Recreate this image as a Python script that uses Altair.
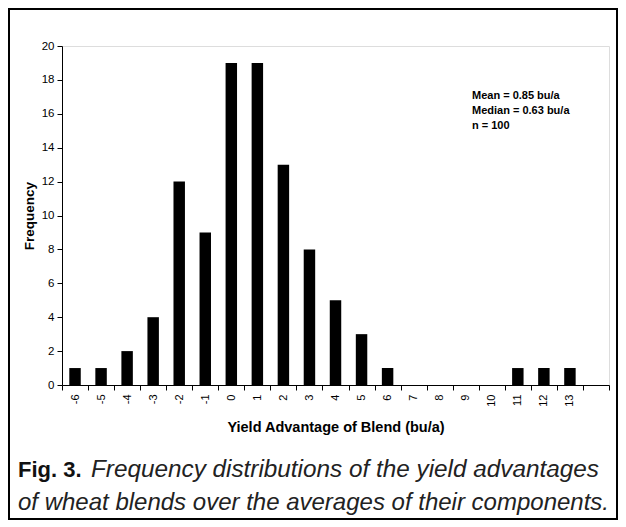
import altair as alt
import pandas as pd

# Data
advantage = [-6, -5, -4, -3, -2, -1, 0, 1, 2, 3, 4, 5, 6, 7, 8, 9, 10, 11, 12, 13]
frequency = [1, 1, 2, 4, 12, 9, 19, 19, 13, 8, 5, 3, 1, 0, 0, 0, 0, 1, 1, 1]
y_ticks = [0, 2, 4, 6, 8, 10, 12, 14, 16, 18, 20]
stats_lines = ["Mean = 0.85 bu/a", "Median = 0.63 bu/a", "n = 100"]
caption_bold = "Fig. 3."
caption_line1 = "Frequency distributions of the yield advantages"
caption_line2 = "of wheat blends over the averages of their components."
x_title = "Yield Advantage of Blend (bu/a)"
y_title = "Frequency"

df = pd.DataFrame({"adv": advantage, "freq": frequency})
x_domain = advantage + [14]

W, H = 547, 339
FONT = "Liberation Sans"

bars = alt.Chart(df).mark_bar(color="black", width={"band": 0.44}).encode(
    x=alt.X(
        "adv:O",
        scale=alt.Scale(domain=x_domain, paddingInner=0, paddingOuter=0),
        axis=alt.Axis(
            title=x_title,
            tickBand="extent",
            labelAngle=270,
            labelExpr="datum.value == 14 ? '' : datum.label",
            labelFont=FONT,
            labelFontSize=11,
            labelColor="black",
            labelPadding=4,
            tickSize=5,
            tickColor="black",
            domainColor="black",
            titleFont=FONT,
            titleFontSize=14.5,
            titleFontWeight="bold",
            titleColor="black",
            titlePadding=14,
        ),
    ),
    y=alt.Y(
        "freq:Q",
        scale=alt.Scale(domain=[0, 20], nice=False),
        axis=alt.Axis(
            title=y_title,
            values=y_ticks,
            grid=False,
            labelFont=FONT,
            labelFontSize=11.5,
            labelColor="black",
            labelPadding=3,
            tickSize=5,
            tickColor="black",
            domainColor="black",
            titleFont=FONT,
            titleFontSize=13.5,
            titleFontWeight="bold",
            titleColor="black",
            titlePadding=5,
        ),
    ),
)

stats = alt.Chart().mark_text(
    align="left", baseline="middle", font=FONT, fontSize=11, fontWeight="bold",
    lineHeight=15, color="black",
).encode(x=alt.value(410), y=alt.value(50), text=alt.value(stats_lines))

cap_bold = alt.Chart().mark_text(
    align="left", baseline="middle", font=FONT, fontSize=22,
    fontWeight="bold", color="#111",
).encode(x=alt.value(-44), y=alt.value(424), text=alt.value(caption_bold))

cap1 = alt.Chart().mark_text(
    align="left", baseline="middle", font=FONT, fontSize=24.3,
    fontStyle="italic", color="#222",
).encode(x=alt.value(29), y=alt.value(424), text=alt.value(caption_line1))

cap2 = alt.Chart().mark_text(
    align="left", baseline="middle", font=FONT, fontSize=24,
    fontStyle="italic", color="#222",
).encode(x=alt.value(-44), y=alt.value(457), text=alt.value(caption_line2))

border = alt.Chart().mark_rect(
    fill=None, fillOpacity=0, stroke="black", strokeWidth=2, clip=False,
).encode(
    x=alt.value(-53), x2=alt.value(555), y=alt.value(-37), y2=alt.value(473)
)

chart = alt.layer(bars, stats, cap_bold, cap1, cap2, border).properties(
    width=W, height=H,
    padding={"left": 54, "top": 38, "right": 9, "bottom": 135},
    autosize=alt.AutoSizeParams(type="none"),
).configure_view(stroke="#888", strokeWidth=1).configure(background="white")

chart.save("out.html", embed_options={"renderer": "svg", "actions": False})
